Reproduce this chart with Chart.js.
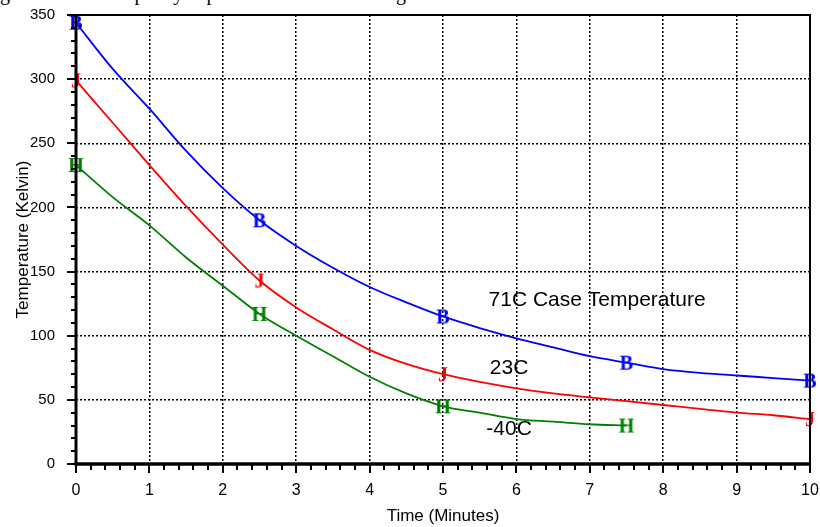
<!DOCTYPE html>
<html>
<head>
<meta charset="utf-8">
<script src="https://cdn.jsdelivr.net/npm/chart.js@4.4.1/dist/chart.umd.min.js"></script>
<style>
  html, body { margin: 0; padding: 0; background: #fff; overflow: hidden; }
  #wrap { position: relative; width: 820px; height: 527px; }
  #cut { position: absolute; left: 0; top: -17px; font: 20px "Liberation Serif", "Times New Roman", serif; line-height: 20px; white-space: nowrap; color: #000; }
  canvas { position: absolute; left: 0; top: 0; }
</style>
</head>
<body>
<div id="wrap">
  <div id="cut">g and the heat capacity is presented for the cooling</div>
  <canvas id="c" width="820" height="527"></canvas>
</div>
<script>
// ---- data ----
const timeMin = [0, 0.5, 1, 1.5, 2, 2.5, 3, 3.5, 4, 4.5, 5, 5.5, 6, 6.5, 7, 7.5, 8, 8.5, 9, 9.5, 10];
const case71C = [344, 308, 277, 244, 215, 190, 170, 153, 138, 126, 115, 106, 98, 91, 84, 79, 74, 71, 69, 67, 65];
const case23C = [299, 266, 233, 201, 171, 143, 122, 105, 89, 78, 70, 64, 59, 55, 52, 49, 46, 43, 40, 38, 35];
const caseM40C = [233, 208, 186, 161, 139, 117, 100, 84, 68, 55, 45, 40, 35, 33, 31, 30];
const markTimes71 = [0, 2.5, 5, 7.5, 10];
const markTimes23 = [0, 2.5, 5, 10];
const markTimesM40 = [0, 2.5, 5, 7.5];
const xTicks = [0, 1, 2, 3, 4, 5, 6, 7, 8, 9, 10];
const yTicks = [0, 50, 100, 150, 200, 250, 300, 350];
const seriesLabels = ['71C Case Temperature', '23C', '-40C'];
const seriesLetters = ['B', 'J', 'H'];
const labelPos = [[7.1, 128], [5.9, 75], [5.9, 27]];

const colors = ['#0000ff', '#ff0000', '#008000'];

function letterCanvas(ch, color) {
  const cv = document.createElement('canvas');
  cv.width = 24; cv.height = 24;
  const g = cv.getContext('2d');
  g.fillStyle = color;
  g.font = 'bold 20px "Liberation Serif", serif';
  g.textAlign = 'center';
  g.textBaseline = 'alphabetic';
  g.fillText(ch, 12, 12 + 6.5);
  return cv;
}

function pts(vals) { return vals.map((v, i) => ({ x: timeMin[i], y: v })); }

function makeSet(vals, marks, idx) {
  const img = letterCanvas(seriesLetters[idx], colors[idx]);
  return {
    label: seriesLabels[idx],
    data: pts(vals),
    borderColor: colors[idx],
    backgroundColor: colors[idx],
    borderWidth: 1.8,
    tension: 0.3,
    cubicInterpolationMode: 'monotone',
    clip: false,
    pointStyle: img,
    pointRadius: c => (c.raw && marks.includes(c.raw.x)) ? 6 : 0,
    pointHoverRadius: c => (c.raw && marks.includes(c.raw.x)) ? 6 : 0,
  };
}

const axesPlugin = {
  id: 'axesPlugin',
  afterDraw(chart) {
    const ctx = chart.ctx;
    const xs = chart.scales.x, ys = chart.scales.y;
    const L = xs.getPixelForValue(0), R = xs.getPixelForValue(10);
    const T = ys.getPixelForValue(350), B = ys.getPixelForValue(0);
    ctx.save();
    ctx.strokeStyle = '#000';
    // frame
    ctx.lineWidth = 2;
    ctx.beginPath(); ctx.moveTo(L, T); ctx.lineTo(R, T); ctx.lineTo(R, B); ctx.stroke();
    ctx.lineWidth = 3;
    ctx.beginPath(); ctx.moveTo(L, T - 1); ctx.lineTo(L, B); ctx.stroke();
    ctx.lineWidth = 3.5;
    ctx.beginPath(); ctx.moveTo(L - 1.5, B); ctx.lineTo(R + 1, B); ctx.stroke();
    // y ticks
    ctx.lineWidth = 2;
    for (let v = 0; v <= 350; v += 10) {
      const p = Math.round(ys.getPixelForValue(v));
      const len = v % 50 === 0 ? 9 : 5;
      ctx.beginPath(); ctx.moveTo(L - len, p); ctx.lineTo(L, p); ctx.stroke();
    }
    // x ticks
    for (let k = 0; k <= 50; k++) {
      const v = k / 5;
      const p = Math.round(xs.getPixelForValue(v));
      const len = k % 5 === 0 ? 9 : 6;
      ctx.beginPath(); ctx.moveTo(p, B); ctx.lineTo(p, B + len); ctx.stroke();
    }
    // curve labels
    ctx.fillStyle = '#000';
    ctx.font = '21px "Liberation Sans", Arial, sans-serif';
    ctx.textAlign = 'center';
    ctx.textBaseline = 'middle';
    labelPos.forEach((lp, i) => {
      ctx.fillText(seriesLabels[i], xs.getPixelForValue(lp[0]), ys.getPixelForValue(lp[1]));
    });
    ctx.restore();
  }
};

new Chart(document.getElementById('c'), {
  type: 'line',
  data: {
    datasets: [
      makeSet(case71C, markTimes71, 0),
      makeSet(case23C, markTimes23, 1),
      makeSet(caseM40C, markTimesM40, 2),
    ]
  },
  options: {
    responsive: false,
    animation: false,
    devicePixelRatio: 1,
    layout: { padding: { top: 15, right: 10, left: 0, bottom: 0 } },
    plugins: { legend: { display: false }, tooltip: { enabled: false } },
    scales: {
      x: {
        type: 'linear', min: 0, max: 10,
        afterBuildTicks: s => { s.ticks = xTicks.map(v => ({ value: v })); },
        afterFit: s => { s.height = 63; s.paddingLeft = 0; s.paddingRight = 0; },
        border: { display: false, dash: [2, 2] },
        grid: {
          drawTicks: false,
          color: c => (c.tick && c.tick.value > 0 && c.tick.value < 10) ? '#000' : 'rgba(0,0,0,0)',
          lineWidth: 1.5
        },
        ticks: {
          color: '#000', padding: 17, maxRotation: 0, autoSkip: false,
          font: { family: '"Liberation Sans", Arial, sans-serif', size: 16 }
        },
        title: {
          display: true, text: 'Time (Minutes)', color: '#000',
          padding: { top: 0, bottom: 0 },
          font: { family: '"Liberation Sans", Arial, sans-serif', size: 17 }
        }
      },
      y: {
        type: 'linear', min: 0, max: 350,
        afterBuildTicks: s => { s.ticks = yTicks.map(v => ({ value: v })); },
        afterFit: s => { s.width = 76; s.paddingTop = 0; s.paddingBottom = 0; },
        border: { display: false, dash: [2, 2] },
        grid: {
          drawTicks: false,
          color: c => (c.tick && c.tick.value > 0 && c.tick.value < 350) ? '#000' : 'rgba(0,0,0,0)',
          lineWidth: 1.5
        },
        ticks: {
          color: '#000', padding: 21, autoSkip: false,
          font: { family: '"Liberation Sans", Arial, sans-serif', size: 15 }
        },
        title: {
          display: true, text: 'Temperature (Kelvin)', color: '#000',
          padding: { top: 13, bottom: 0 },
          font: { family: '"Liberation Sans", Arial, sans-serif', size: 17 }
        }
      }
    }
  },
  plugins: [axesPlugin]
});
</script>
</body>
</html>
